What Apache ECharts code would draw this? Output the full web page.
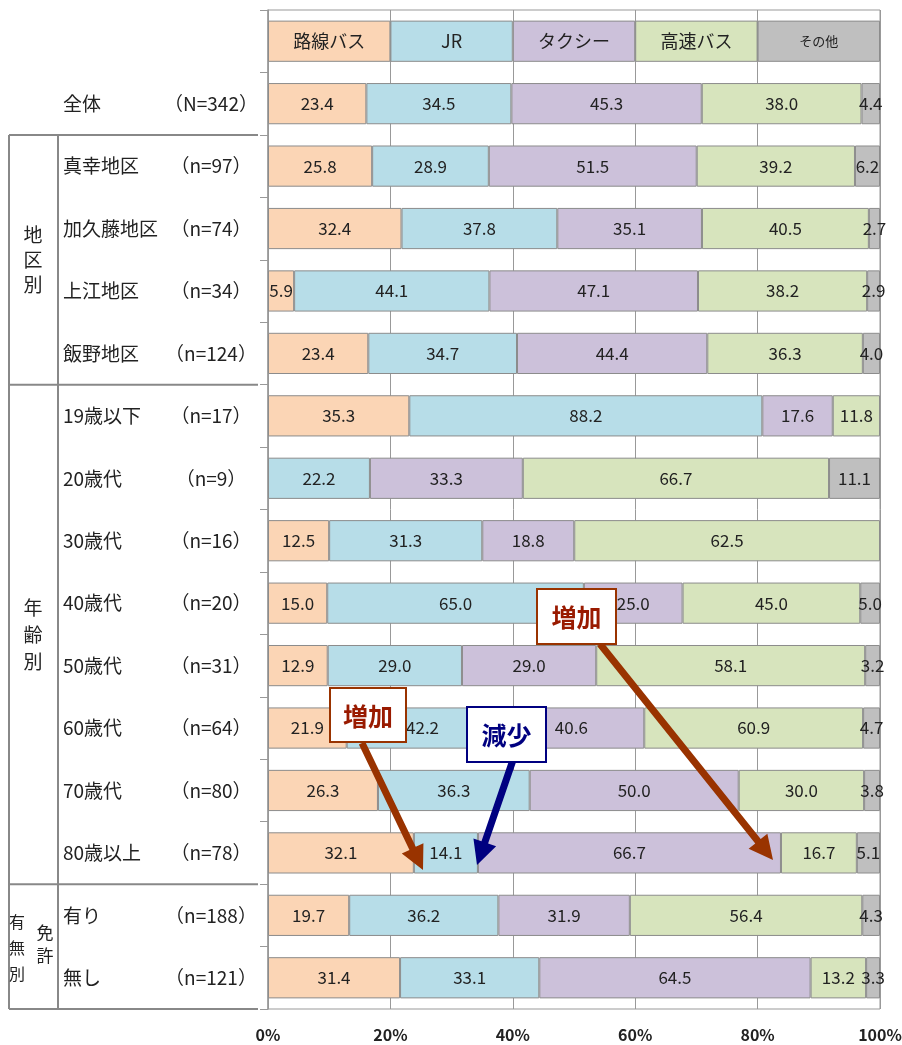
<!DOCTYPE html>
<html>
<head>
<meta charset="utf-8">
<script src="https://cdn.jsdelivr.net/npm/echarts@6/dist/echarts.min.js"></script>
<style>
  html, body { margin: 0; padding: 0; background: #fff; }
  #chart { width: 902px; height: 1045px; }
</style>
</head>
<body>
<div id="chart"></div>
<script>
// カテゴリ（行）とサンプル数
const categories = ['全体', '真幸地区', '加久藤地区', '上江地区', '飯野地区',
  '19歳以下', '20歳代', '30歳代', '40歳代', '50歳代', '60歳代', '70歳代', '80歳以上',
  '有り', '無し'];
const sampleSizes = ['N=342', 'n=97', 'n=74', 'n=34', 'n=124',
  'n=17', 'n=9', 'n=16', 'n=20', 'n=31', 'n=64', 'n=80', 'n=78',
  'n=188', 'n=121'];

// 交通手段（複数回答 %）
const modes = ['路線バス', 'JR', 'タクシー', '高速バス', 'その他'];
const rosenBus = [23.4, 25.8, 32.4, 5.9, 23.4, 35.3, null, 12.5, 15.0, 12.9, 21.9, 26.3, 32.1, 19.7, 31.4];
const jr       = [34.5, 28.9, 37.8, 44.1, 34.7, 88.2, 22.2, 31.3, 65.0, 29.0, 42.2, 36.3, 14.1, 36.2, 33.1];
const taxi     = [45.3, 51.5, 35.1, 47.1, 44.4, 17.6, 33.3, 18.8, 25.0, 29.0, 40.6, 50.0, 66.7, 31.9, 64.5];
const kosokuBus = [38.0, 39.2, 40.5, 38.2, 36.3, 11.8, 66.7, 62.5, 45.0, 58.1, 60.9, 30.0, 16.7, 56.4, 13.2];
const sonota   = [4.4, 6.2, 2.7, 2.9, 4.0, null, 11.1, null, 5.0, 3.2, 4.7, 3.8, 5.1, 4.3, 3.3];

// 見出し行（凡例）の幅
const headerShare = [20, 20, 20, 20, 20];
const xTicks = [0, 20, 40, 60, 80, 100];

const colors = ['#FBD5B5', '#B7DDE8', '#CCC1DA', '#D7E4BD', '#BFBFBF'];
const allValues = [rosenBus, jr, taxi, kosokuBus, sonota];
const totals = categories.map((_, i) => allValues.reduce((s, arr) => s + (arr[i] || 0), 0));

const FONT = '"Noto Sans CJK JP", "Noto Sans", sans-serif';
const W = 902, H = 1045;
const gridLeft = 268, gridRight = 22, gridTop = 10, gridBottom = 36;
const rowCount = categories.length + 1;
const rowH = (H - gridTop - gridBottom) / rowCount;
const rowY = k => gridTop + k * rowH;   // 行境界

function arrow(x1, y1, x2, y2, color) {
  const dx = x2 - x1, dy = y2 - y1, L = Math.hypot(dx, dy);
  const ux = dx / L, uy = dy / L, nx = -uy, ny = ux;
  const w = 3.5, hw = 12, hl = 24;
  const bx = x2 - ux * hl, by = y2 - uy * hl;
  return {
    type: 'polygon',
    shape: { points: [
      [x1 + nx * w, y1 + ny * w], [bx + nx * w, by + ny * w], [bx + nx * hw, by + ny * hw],
      [x2, y2],
      [bx - nx * hw, by - ny * hw], [bx - nx * w, by - ny * w], [x1 - nx * w, y1 - ny * w]
    ] },
    style: { fill: color },
    z: 100
  };
}

function noteBox(x, y, w, h, text, color, textColor) {
  return {
    type: 'group', z: 101,
    children: [
      { type: 'rect', shape: { x: x, y: y, width: w, height: h },
        style: { fill: '#fff', stroke: color, lineWidth: 2 }, z: 101 },
      { type: 'text', x: x + w / 2, y: y + h / 2 + 1, z: 102,
        style: { text: text, fill: textColor, font: 'bold 25px ' + FONT, align: 'center', verticalAlign: 'middle' } }
    ]
  };
}

function line(x1, y1, x2, y2) {
  return { type: 'line', shape: { x1, y1, x2, y2 }, style: { stroke: '#888', lineWidth: 2 }, z: 10 };
}

function vtext(x, yc, text, size, lh) {
  return { type: 'text', x: x, y: yc, z: 10,
    style: { text: text.split('').join('\n'), font: size + 'px ' + FONT, fill: '#222',
      align: 'center', verticalAlign: 'middle', lineHeight: lh } };
}

const tableGraphics = [
  line(9, rowY(2), 258, rowY(2)),
  line(9, rowY(6), 258, rowY(6)),
  line(9, rowY(14), 258, rowY(14)),
  line(9, rowY(16), 258, rowY(16)),
  line(9, rowY(2), 9, rowY(16)),
  line(58, rowY(2), 58, rowY(16)),
  vtext(33, (rowY(2) + rowY(6)) / 2, '地区別', 19, 25),
  vtext(33, (rowY(6) + rowY(14)) / 2, '年齢別', 19, 27),
  vtext(17, (rowY(14) + rowY(16)) / 2 + 1, '有無別', 16, 26),
  vtext(45, (rowY(14) + rowY(16)) / 2 - 3, '免許', 17, 23)
];

const annotations = [
  arrow(362, 743, 423, 870, '#993300'),
  arrow(513, 760, 477, 865, '#000080'),
  arrow(600, 644, 773, 860, '#993300'),
  noteBox(330, 688, 76, 54, '増加', '#993300', '#991a00'),
  noteBox(467, 707, 79, 55, '減少', '#000080', '#000080'),
  noteBox(537, 589, 79, 55, '増加', '#993300', '#991a00')
];

const chart = echarts.init(document.getElementById('chart'));

const series = modes.map((name, s) => ({
  name: name,
  type: 'bar',
  stack: 'total',
  barCategoryGap: '34%',
  itemStyle: { color: colors[s], borderColor: '#8c8c8c', borderWidth: 1 },
  label: {
    show: true,
    position: 'inside',
    color: '#222',
    fontSize: 17,
    fontFamily: FONT,
    formatter: p => {
      if (p.dataIndex === 0) return name;
      const raw = allValues[s][p.dataIndex - 1];
      return raw ? raw.toFixed(1) : '';
    }
  },
  data: [{ value: headerShare[s], label: { fontSize: s === 4 ? 13 : 18 } }].concat(
    allValues[s].map((v, i) => v ? v / totals[i] * 100 : null)
  )
}));

chart.setOption({
  animation: false,
  textStyle: { fontFamily: FONT },
  grid: { left: gridLeft, right: gridRight, top: gridTop, bottom: gridBottom,
    outerBoundsMode: 'none', containLabel: false,
    show: true, borderColor: '#999', borderWidth: 1 },
  xAxis: {
    type: 'value', min: 0, max: 100, interval: 20,
    axisLine: { show: false },
    axisTick: { show: false },
    splitLine: { show: true, lineStyle: { color: '#999', width: 1 } },
    axisLabel: {
      margin: 18, fontSize: 16, fontWeight: 'bold', color: '#222', fontFamily: FONT,
      formatter: v => xTicks.includes(v) ? v + '%' : ''
    }
  },
  yAxis: {
    type: 'category',
    inverse: true,
    data: [''].concat(categories),
    axisLine: { show: true, lineStyle: { color: '#999', width: 1.5 } },
    axisTick: { show: true, length: 8, lineStyle: { color: '#999' } },
    axisLabel: {
      margin: 17,
      formatter: (value, index) => index === 0 ? '' :
        '{a|' + value + '}{b|（' + sampleSizes[index - 1] + '）}',
      rich: {
        a: { width: 108, align: 'left', fontSize: 19, color: '#222', fontFamily: FONT },
        b: { width: 80, align: 'center', fontSize: 19, color: '#222', fontFamily: FONT }
      }
    }
  },
  series: series,
  graphic: tableGraphics.concat(annotations)
});

window.addEventListener('resize', () => chart.resize());
</script>
</body>
</html>
